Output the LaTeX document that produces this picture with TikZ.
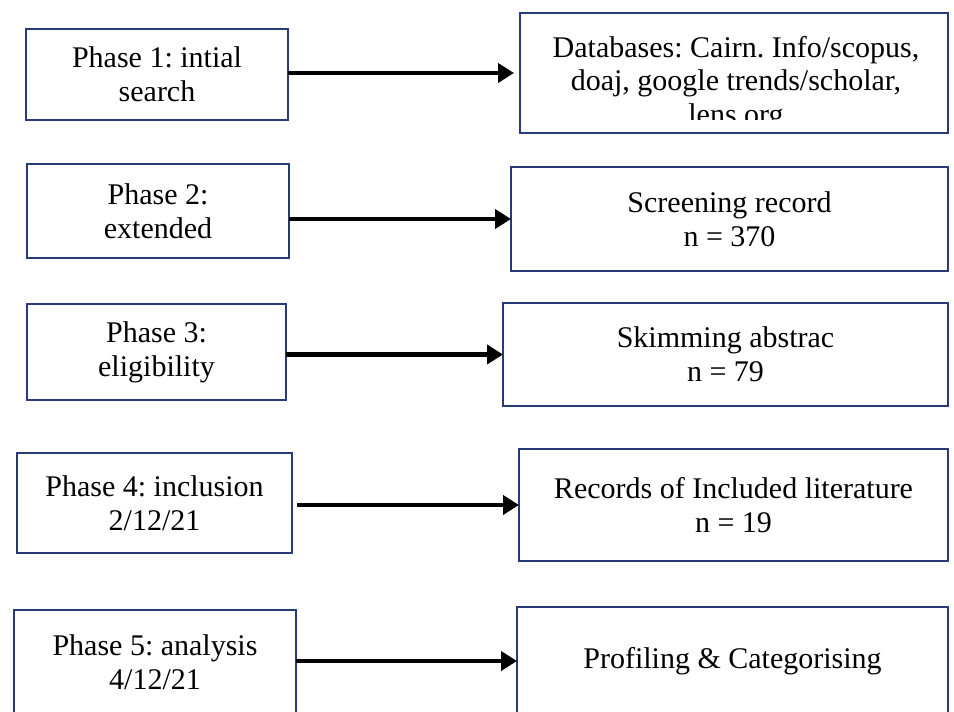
\documentclass[tikz,border=0pt]{standalone}
\usepackage{fontspec}
\setmainfont{Liberation Serif}
\usetikzlibrary{arrows.meta}
\frenchspacing
\definecolor{boxblue}{RGB}{40,58,122}
\tikzset{
  box/.style={draw=boxblue, line width=2.5pt, inner sep=0pt, outer sep=0pt,
    align=center, anchor=north west, fill=white,
    font=\fontsize{30}{34}\selectfont},
  txt/.style={inner sep=0pt, outer sep=0pt, anchor=base,
    font=\fontsize{30}{34}\selectfont},
  arr/.style={line width=4.5pt, -{Triangle[length=16pt,width=19pt]}}
}
\begin{document}
\begin{tikzpicture}[x=1pt,y=-1pt]
\path[use as bounding box, clip] (0,0) rectangle (954,712);
\fill[white] (0,0) rectangle (954,712);
% left column
\node[box, minimum width=262pt, minimum height=91pt]  (L1) at (26,29)  {Phase 1: intial\\search};
\node[box, minimum width=262pt, minimum height=94pt]  (L2) at (27,164) {Phase 2:\\extended};
\node[box, minimum width=259pt, minimum height=96pt]  (L3) at (27,304) {Phase 3:\\eligibility};
\node[box, minimum width=275pt, minimum height=100pt] (L4) at (17,453) {Phase 4: inclusion\\2/12/21};
\node[box, minimum width=282pt, minimum height=105pt] (L5) at (14,610) {Phase 5: analysis\\4/12/21};
% right column
\node[box, minimum width=428pt, minimum height=120pt] (R1) at (520,13) {};
\begin{scope}
  \clip (521,14) rectangle (947,119);
  \node[txt] (R1a) at (736,57)  {Databases: Cairn. Info/scopus,};
  \node[txt] (R1b) at (736,90)  {doaj, google trends/scholar,};
  \node[txt] (R1c) at (736,124) {lens.org};
\end{scope}
\node[box, minimum width=437pt, minimum height=104pt] (R2) at (511,167) {Screening record\\n = 370};
\node[box, minimum width=445pt, minimum height=103pt] (R3) at (503,303) {Skimming abstrac\\n = 79};
\node[box, minimum width=429pt, minimum height=112pt] (R4) at (519,449) {Records of Included literature\\n = 19};
\node[box, minimum width=431pt, minimum height=108pt] (R5) at (517,607) {Profiling \& Categorising};
% connectors
\draw[arr, shorten >=6pt] (R1.west -| L1.east) -- (R1.west);
\draw[arr] (R2.west -| L2.east) -- (R2.west);
\draw[arr] (R3.west -| L3.east) -- (R3.west);
\draw[arr, shorten <=5pt] (R4.west -| L4.east) -- (R4.west);
\draw[arr] (R5.west -| L5.east) -- (R5.west);
\end{tikzpicture}
\end{document}
